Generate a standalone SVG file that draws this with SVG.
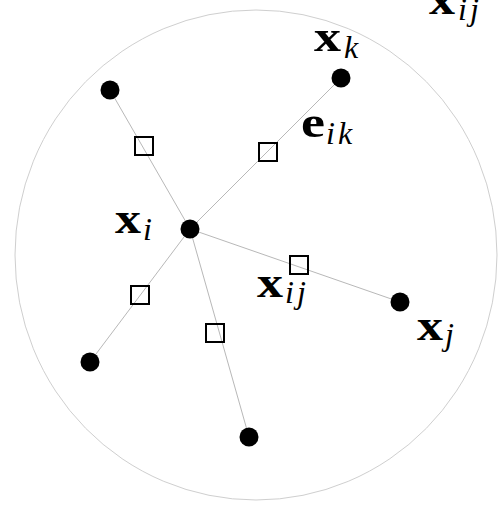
<svg xmlns="http://www.w3.org/2000/svg" width="499" height="510" viewBox="0 0 499 510">
<style>
.edge{stroke:#b8b8b8;stroke-width:1;fill:none}
.node{fill:#000}
.mid{fill:none;stroke:#000;stroke-width:2}
.b{font-family:"Liberation Serif",serif;font-weight:bold;font-size:44px;fill:#000}
.s{font-family:"Liberation Serif",serif;font-style:italic;font-size:32px;letter-spacing:3px;fill:#000}
</style>
<rect width="499" height="510" fill="#fff"/>
<ellipse id="boundary" cx="256" cy="255" rx="241" ry="245" fill="none" stroke="#cfcfcf" stroke-width="1"/>
<g id="connectors">
<line class="edge" x1="190" y1="229" x2="110" y2="90"/>
<line class="edge" x1="190" y1="229" x2="341" y2="78"/>
<line class="edge" x1="190" y1="229" x2="400" y2="302"/>
<line class="edge" x1="190" y1="229" x2="90" y2="362"/>
<line class="edge" x1="190" y1="229" x2="249" y2="437"/>
</g>
<g id="node-xi"><circle class="node" cx="190" cy="229" r="9.5"/></g>
<g id="node-tl"><circle class="node" cx="110" cy="90" r="9.5"/></g>
<g id="node-xk"><circle class="node" cx="341" cy="78" r="9.5"/></g>
<g id="node-xj"><circle class="node" cx="400" cy="302" r="9.5"/></g>
<g id="node-bl"><circle class="node" cx="90" cy="362" r="9.5"/></g>
<g id="node-b"><circle class="node" cx="249" cy="437" r="9.5"/></g>
<g id="mid-1"><rect class="mid" x="135" y="137" width="18" height="18"/></g>
<g id="mid-eik"><rect class="mid" x="259" y="143" width="18" height="18"/></g>
<g id="mid-xij"><rect class="mid" x="290" y="256" width="18" height="18"/></g>
<g id="mid-4"><rect class="mid" x="131" y="286" width="18" height="18"/></g>
<g id="mid-5"><rect class="mid" x="206" y="324" width="18" height="18"/></g>
<g id="labels">
<text class="b" x="115" y="233" textLength="26" lengthAdjust="spacingAndGlyphs">x</text>
<text class="s" x="143" y="240">i</text>
<text class="b" x="314" y="51" textLength="27" lengthAdjust="spacingAndGlyphs">x</text>
<text class="s" x="344" y="58">k</text>
<text class="b" x="301" y="137" textLength="24" lengthAdjust="spacingAndGlyphs">e</text>
<text class="s" x="326" y="144">ik</text>
<text class="b" x="257" y="297" textLength="26" lengthAdjust="spacingAndGlyphs">x</text>
<text class="s" x="285" y="303">ij</text>
<text class="b" x="417" y="340" textLength="26" lengthAdjust="spacingAndGlyphs">x</text>
<text class="s" x="445" y="345">j</text>
<text class="b" x="429" y="14" textLength="26" lengthAdjust="spacingAndGlyphs">x</text>
<text class="s" x="458" y="20">ij</text>
</g>
</svg>
